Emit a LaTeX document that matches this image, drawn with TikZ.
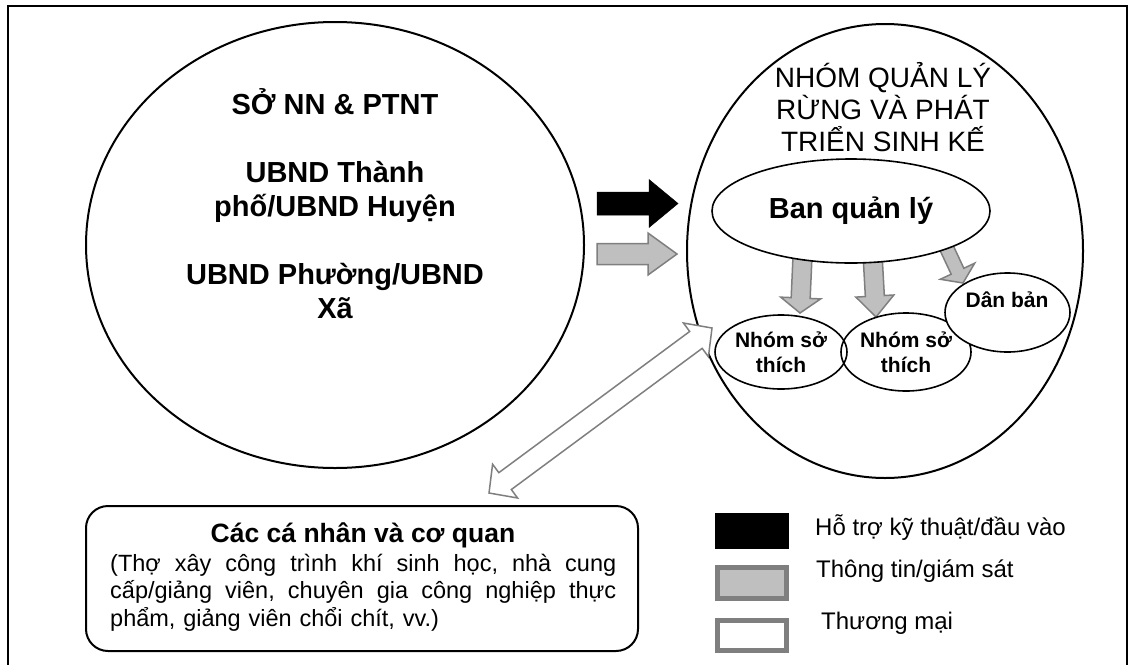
\documentclass[tikz,border=0pt]{standalone}
\usepackage{fontspec}
\setmainfont{Liberation Sans}
\usetikzlibrary{shapes.geometric,calc}
\definecolor{lgray}{HTML}{BFBFBF}
\definecolor{dgray}{HTML}{7F7F7F}
% block arrow: style, from, to, shaft half width, head half width, head length (pt)
\newcommand\blockarrow[6]{%
  \coordinate (ba-h) at ($(#3)!#6pt!(#2)$);
  \draw[#1] ($(#2)!#4pt!90:(#3)$) -- ($(ba-h)!#4pt!-90:(#2)$) -- ($(ba-h)!#5pt!-90:(#2)$) -- (#3)
    -- ($(ba-h)!#5pt!90:(#2)$) -- ($(ba-h)!#4pt!90:(#2)$) -- ($(#2)!#4pt!-90:(#3)$) -- cycle;}
% double block arrow: style, tip A, tip B, shaft half, head half, head length
\newcommand\dblarrow[6]{%
  \coordinate (da-a) at ($(#2)!#6pt!(#3)$);
  \coordinate (da-b) at ($(#3)!#6pt!(#2)$);
  \draw[#1] (#2) -- ($(da-a)!#5pt!90:(#3)$) -- ($(da-a)!#4pt!90:(#3)$) -- ($(da-b)!#4pt!-90:(#2)$)
    -- ($(da-b)!#5pt!-90:(#2)$) -- (#3) -- ($(da-b)!#5pt!90:(#2)$) -- ($(da-b)!#4pt!90:(#2)$)
    -- ($(da-a)!#4pt!-90:(#3)$) -- ($(da-a)!#5pt!-90:(#3)$) -- cycle;}
\newcommand\jsp{\hskip 0pt plus 1fil\relax}
\begin{document}
\begin{tikzpicture}[x=1pt,y=-1pt,
  bigell/.style={ellipse, draw, line width=2pt, inner sep=0pt},
  smallell/.style={ellipse, draw, line width=1.6pt, inner sep=0pt, align=center,
    font=\fontsize{21}{25}\selectfont\bfseries},
  blackarrow/.style={fill=black, draw=black, line width=0.5pt},
  grayarrow/.style={fill=lgray, draw=dgray, line width=1.5pt, line join=miter},
  tradearrow/.style={fill=white, draw=dgray, line width=1.5pt, line join=miter},
  legtext/.style={anchor=base west, inner sep=0pt, font=\fontsize{24}{28}\selectfont},
]
\useasboundingbox (0,0) rectangle (1134,664);
\draw[line width=2pt] (8,6) rectangle (1127,680);

% left ellipse
\node[bigell, minimum width=498, minimum height=446] (gov) at (335,245) {};
\node[align=center, anchor=base, inner sep=0pt, font=\fontsize{29}{34}\selectfont\bfseries] (govtext) at (335,318)
  {SỞ NN \& PTNT\\[34pt]UBND Thành\\phố/UBND Huyện\\[34pt]UBND Phường/UBND\\Xã};

% right ellipse
\node[bigell, minimum width=396, minimum height=454] (grp) at (885,251) {};
\node[align=center, anchor=base, inner sep=0pt, font=\fontsize{28}{32}\selectfont] (grptitle) at (883,151)
  {NHÓM QUẢN LÝ\\RỪNG VÀ PHÁT\\TRIỂN SINH KẾ};

% arrows between left and right
\coordinate (k1s) at (597,203.5); \coordinate (k1e) at (678,203.5);
\blockarrow{blackarrow}{k1s}{k1e}{11.5}{24}{29}
\coordinate (g1s) at (597,254); \coordinate (g1e) at (677,254);
\blockarrow{grayarrow}{g1s}{g1e}{10.5}{21}{29}

% arrows down from Ban quan ly
\coordinate (a1s) at (803,245); \coordinate (a1e) at (800,313);
\blockarrow{grayarrow}{a1s}{a1e}{9.5}{20}{15}
\coordinate (a2s) at (872,245); \coordinate (a2e) at (876,317);
\blockarrow{grayarrow}{a2s}{a2e}{9.5}{19}{21}
\coordinate (a3s) at (941,236); \coordinate (a3e) at (963,283);
\blockarrow{grayarrow}{a3s}{a3e}{7}{19}{13}

\node[ellipse, draw, line width=1.6pt, fill=white, minimum width=278, minimum height=104, inner sep=0pt,
  font=\fontsize{29}{34}\selectfont\bfseries] (ban) at (851,211) {Ban quản lý};

% small groups
\node[smallell, minimum width=132, minimum height=74] (n1) at (781,352) {Nhóm sở\\thích};
\node[smallell, minimum width=130, minimum height=78] (n2) at (906,352) {Nhóm sở\\thích};
\node[smallell, fill=white, minimum width=125, minimum height=79] (db) at (1007.5,312.5) {};
\node[anchor=base, inner sep=0pt, font=\fontsize{21}{25}\selectfont\bfseries] (dbt) at (1007,307.5) {Dân bản};

% trade double arrow
\coordinate (t1) at (489,493); \coordinate (t2) at (712,328);
\dblarrow{tradearrow}{t1}{t2}{10.5}{21}{20}

% individuals box
\node[draw, line width=2pt, rounded corners=22pt, minimum width=552, minimum height=145, inner sep=0pt] (ind) at (362,578.5) {};
\node[anchor=base, inner sep=0pt, font=\fontsize{26.5}{30}\selectfont\bfseries] (indtitle) at (363,542) {Các cá nhân và cơ quan};
\node[anchor=base west, text width=506pt, inner sep=0pt, font=\fontsize{23.5}{27.5}\selectfont] (indtext) at (110,571)
  {\hbox to 506pt{(Thợ\jsp\ xây\jsp\ công\jsp\ trình\jsp\ khí\jsp\ sinh\jsp\ học,\jsp\ nhà\jsp\ cung}\par
   \hbox to 506pt{cấp/giảng\jsp\ viên,\jsp\ chuyên\jsp\ gia\jsp\ công\jsp\ nghiệp\jsp\ thực}\par
   \hbox{phẩm, giảng viên chổi chít, vv.)}\par};

% legend
\node[fill=black, minimum width=74, minimum height=36, inner sep=0pt] (lg1) at (752,531) {};
\node[draw=dgray, line width=5pt, fill=lgray, minimum width=69, minimum height=31, inner sep=0pt] (lg2) at (752,583) {};
\node[draw=dgray, line width=5pt, fill=white, minimum width=69, minimum height=30, inner sep=0pt] (lg3) at (752,635.5) {};
\node[legtext] (lt1) at (815,535) {Hỗ trợ kỹ thuật/đầu vào};
\node[legtext] (lt2) at (816,577) {Thông tin/giám sát};
\node[legtext] (lt3) at (821,629) {Thương mại};
\end{tikzpicture}
\end{document}
